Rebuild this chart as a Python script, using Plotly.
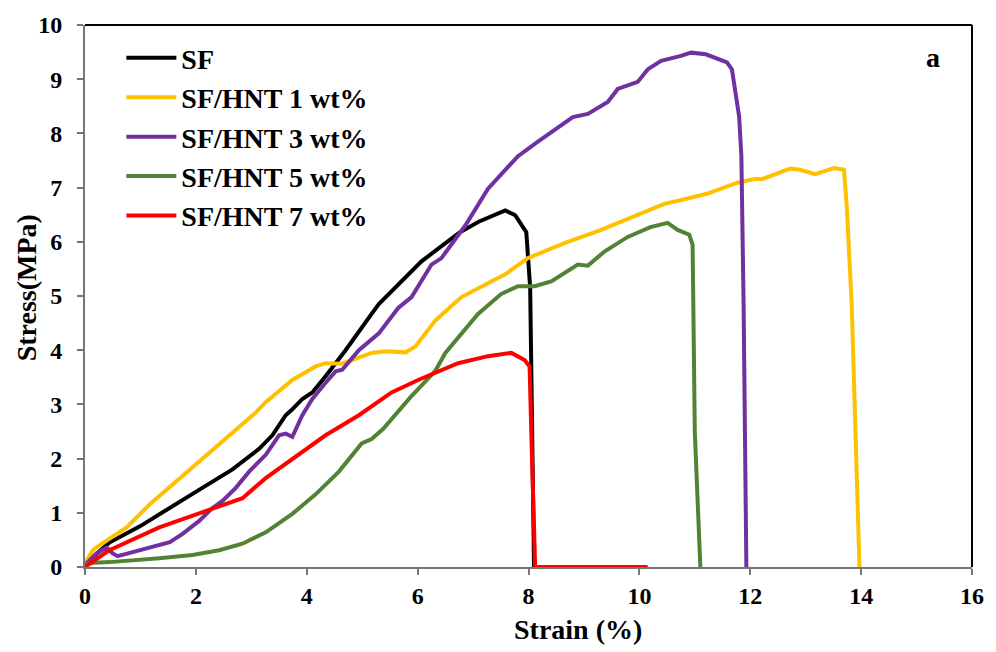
import plotly.graph_objects as go

# Stress-strain curves of silk fibroin (SF) films with halloysite nanotubes (HNT)
sf_x = [0, 0.14, 0.44, 0.99, 1.94, 2.42, 2.66, 3.14, 3.38, 3.62, 3.74, 3.92, 4.1, 4.34, 4.7,
        5.17, 5.3, 6.07, 6.74, 7.1, 7.58, 7.76, 7.96, 8.03, 8.1]
sf_y = [0, 0.18, 0.45, 0.75, 1.35, 1.64, 1.8, 2.18, 2.43, 2.8, 2.91, 3.1, 3.22, 3.52, 4.0,
        4.67, 4.85, 5.64, 6.16, 6.37, 6.58, 6.49, 6.18, 5.16, 0]

hnt1_x = [0, 0.14, 0.32, 0.75, 1.17, 1.65, 2.12, 2.6, 3.08, 3.26, 3.74, 4.16, 4.34, 4.64, 5.17,
          5.42, 5.78, 5.96, 6.32, 6.79, 7.58, 7.99, 8.66, 9.31, 9.97, 10.45, 10.87, 11.23, 11.77,
          12.07, 12.22, 12.72, 12.9, 13.17, 13.51, 13.69, 13.74, 13.83, 13.97]
hnt1_y = [0.07, 0.31, 0.44, 0.73, 1.16, 1.58, 2.0, 2.43, 2.85, 3.04, 3.45, 3.7, 3.76, 3.75, 3.95,
          3.98, 3.96, 4.07, 4.55, 4.98, 5.4, 5.7, 5.98, 6.22, 6.49, 6.7, 6.8, 6.89, 7.09,
          7.16, 7.16, 7.35, 7.33, 7.25, 7.36, 7.33, 6.67, 4.85, 0]

hnt3_x = [0, 0.21, 0.39, 0.5, 0.59, 0.86, 1.17, 1.53, 1.76, 2.06, 2.3, 2.48, 2.72, 2.96, 3.26,
          3.5, 3.62, 3.74, 3.92, 4.1, 4.34, 4.52, 4.64, 4.94, 5.3, 5.65, 5.89, 6.25, 6.43, 6.86,
          7.27, 7.81, 8.17, 8.8, 9.07, 9.43, 9.61, 9.97, 10.15, 10.39, 10.75, 10.93, 11.2, 11.35,
          11.58, 11.67, 11.73, 11.8, 11.84, 11.88, 11.93]
hnt3_y = [0.04, 0.25, 0.36, 0.25, 0.2, 0.28, 0.37, 0.46, 0.61, 0.85, 1.09, 1.22, 1.46, 1.76, 2.07,
          2.43, 2.46, 2.4, 2.8, 3.1, 3.4, 3.61, 3.64, 4.0, 4.31, 4.78, 4.98, 5.58, 5.7, 6.3,
          6.98, 7.58, 7.85, 8.3, 8.36, 8.58, 8.82, 8.95, 9.18, 9.34, 9.43, 9.49, 9.46, 9.4,
          9.31, 9.18, 8.8, 8.31, 7.58, 4.85, 0]

hnt5_x = [0, 0.44, 1.34, 1.94, 2.42, 2.84, 3.26, 3.74, 4.16, 4.58, 4.99, 5.17, 5.38, 5.86, 6.32,
          6.5, 7.09, 7.51, 7.81, 8.11, 8.41, 8.89, 9.07, 9.37, 9.79, 10.2, 10.51, 10.69, 10.9,
          10.96, 11.0, 11.1]
hnt5_y = [0.07, 0.09, 0.16, 0.22, 0.31, 0.43, 0.64, 0.98, 1.34, 1.76, 2.28, 2.36, 2.55, 3.12, 3.62,
          3.95, 4.67, 5.04, 5.18, 5.18, 5.27, 5.58, 5.56, 5.82, 6.09, 6.27, 6.35, 6.22, 6.13,
          5.95, 2.49, 0]

hnt7_x = [0, 0.44, 1.34, 2.06, 2.84, 3.26, 3.74, 4.34, 4.94, 5.53, 6.01, 6.73, 7.27, 7.69, 7.93,
          8.02, 8.05, 8.12, 10.15]
hnt7_y = [0, 0.31, 0.73, 0.98, 1.27, 1.64, 2.0, 2.43, 2.8, 3.22, 3.45, 3.76, 3.89, 3.95, 3.82,
          3.7, 2.49, 0, 0]

series_names = ["SF", "SF/HNT 1 wt%", "SF/HNT 3 wt%", "SF/HNT 5 wt%", "SF/HNT 7 wt%"]
series_x = [sf_x, hnt1_x, hnt3_x, hnt5_x, hnt7_x]
series_y = [sf_y, hnt1_y, hnt3_y, hnt5_y, hnt7_y]
colors = ["#000000", "#FFC000", "#7030A0", "#548235", "#FF0000"]

x_ticks = [0, 2, 4, 6, 8, 10, 12, 14, 16]
y_ticks = [0, 1, 2, 3, 4, 5, 6, 7, 8, 9, 10]

FONT = "Times"
tick_font = dict(family=FONT, size=24, weight="bold")
big_font = dict(family=FONT, size=28, weight="bold")

fig = go.Figure()
for name, xs, ys, col in zip(series_names, series_x, series_y, colors):
    fig.add_trace(go.Scatter(
        x=xs, y=ys, mode="lines", name=name,
        line=dict(color=col, width=4),
    ))

fig.update_layout(
    width=996, height=652,
    margin=dict(l=85, r=20, t=17, b=85),
    paper_bgcolor="white", plot_bgcolor="white",
    font=dict(color="black"),
    legend=dict(
        x=0.041, y=0.985, xanchor="left", yanchor="top",
        bgcolor="rgba(0,0,0,0)",
        font=big_font,
        itemwidth=50,
    ),
    xaxis=dict(
        range=[0, 16], tickvals=x_ticks,
        showgrid=False, zeroline=False,
        showline=True, linecolor="#767676", linewidth=2,
        ticks="outside", ticklen=6, tickwidth=2, tickcolor="#767676",
        tickfont=tick_font,
    ),
    yaxis=dict(
        range=[0, 10], tickvals=y_ticks,
        showgrid=False, zeroline=False,
        showline=True, linecolor="#767676", linewidth=2,
        ticks="outside", ticklen=6, tickwidth=2, tickcolor="#767676",
        tickfont=tick_font,
        ticklabelstandoff=10,
    ),
)

# Black frame on the top and right sides of the plotting area
fig.add_shape(type="line", xref="paper", yref="paper", x0=0, x1=1, y0=1, y1=1,
              line=dict(color="black", width=2))
fig.add_shape(type="line", xref="paper", yref="paper", x0=1, x1=1, y0=0, y1=1,
              line=dict(color="black", width=2))

# Axis titles and panel label
fig.add_annotation(text="Strain (%)", xref="paper", yref="paper", x=0.556, y=-0.115,
                   xanchor="center", yanchor="middle", showarrow=False, font=big_font)
fig.add_annotation(text="Stress(MPa)", xref="paper", yref="paper", x=-0.066, y=0.515,
                   xanchor="center", yanchor="middle", showarrow=False, textangle=-90,
                   font=big_font)
fig.add_annotation(text="a", xref="paper", yref="paper", x=0.956, y=0.94,
                   xanchor="center", yanchor="middle", showarrow=False, font=big_font)

fig.write_html("out.html")
